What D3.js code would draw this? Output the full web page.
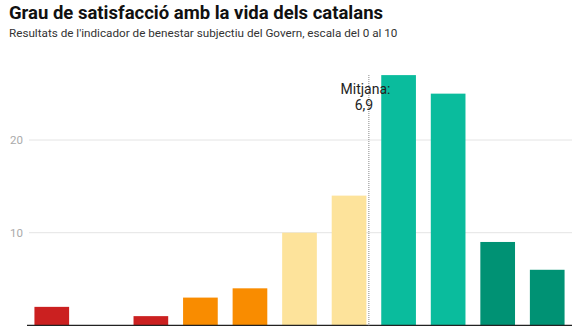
<!DOCTYPE html>
<html><head><meta charset="utf-8">
<script src="https://cdn.jsdelivr.net/npm/d3@7"></script>
<style>
html,body{margin:0;padding:0;background:#fff;overflow:hidden;}
svg{display:block;font-family:Roboto,"Noto Sans",sans-serif;}
</style></head>
<body>
<svg id="chart" width="581" height="326"></svg>
<script>
const title = "Grau de satisfacció amb la vida dels catalans";
const subtitle = "Resultats de l'indicador de benestar subjectiu del Govern, escala del 0 al 10";
const categories = ["0","1","2","3","4","5","6","7","8","9","10"];
const values = [2, 0, 1, 3, 4, 10, 14, 27, 25, 9, 6];
const colors = ["#cb2020","#cb2020","#cb2020","#f98c00","#f98c00","#fde39b","#fde39b","#0abc9d","#0abc9d","#009274","#009274"];
const yTicks = [10, 20];
const meanValue = 6.9;
const meanLabel = ["Mitjana:", "6,9"];

const svg = d3.select("#chart");
const left = 27, right = 572, bottom = 325.4;
const unit = 9.27;
const y = d3.scaleLinear().domain([0, 27]).range([bottom, bottom - 27 * unit]);
const x = d3.scaleBand().domain(categories).range([left, right]).paddingInner(0.3).paddingOuter(0.15);
const xm = d3.scaleLinear().domain([0, categories.length]).range([left, right]);

svg.append("text").attr("x", 9).attr("y", 18.5)
  .attr("font-size", 18.5).attr("font-weight", 700).attr("fill", "#111").text(title);
svg.append("text").attr("x", 9).attr("y", 37)
  .attr("font-size", 11.7).attr("fill", "#333").text(subtitle);

// grid
const g = svg.append("g");
g.selectAll("line.grid").data(yTicks).join("line")
  .attr("x1", 29).attr("x2", right)
  .attr("y1", d => y(d)).attr("y2", d => y(d))
  .attr("stroke", "#e4e4e4").attr("stroke-width", 1);
g.selectAll("text.tick").data(yTicks).join("text")
  .attr("x", 10).attr("y", d => y(d) + 4)
  .attr("font-size", 11.5).attr("fill", "#aaa").text(d => d);

// bars
svg.append("g").selectAll("rect").data(values).join("rect")
  .attr("x", (d, i) => x(categories[i]))
  .attr("width", x.bandwidth())
  .attr("y", d => y(d))
  .attr("height", d => bottom - y(d))
  .attr("fill", (d, i) => colors[i]);

// baseline
svg.append("line").attr("x1", left).attr("x2", right)
  .attr("y1", bottom).attr("y2", bottom)
  .attr("stroke", "#222").attr("stroke-width", 1.2);

// mean line
const mx = xm(meanValue);
svg.append("line").attr("x1", mx).attr("x2", mx)
  .attr("y1", 75).attr("y2", bottom)
  .attr("stroke", "#888").attr("stroke-width", 1).attr("stroke-dasharray", "1,1");
svg.append("text").attr("x", 365.5).attr("y", 93.5).attr("text-anchor", "middle")
  .attr("font-size", 14).attr("fill", "#222").text(meanLabel[0]);
svg.append("text").attr("x", 364).attr("y", 109.5).attr("text-anchor", "middle")
  .attr("font-size", 14).attr("fill", "#222").text(meanLabel[1]);
</script>
</body></html>
